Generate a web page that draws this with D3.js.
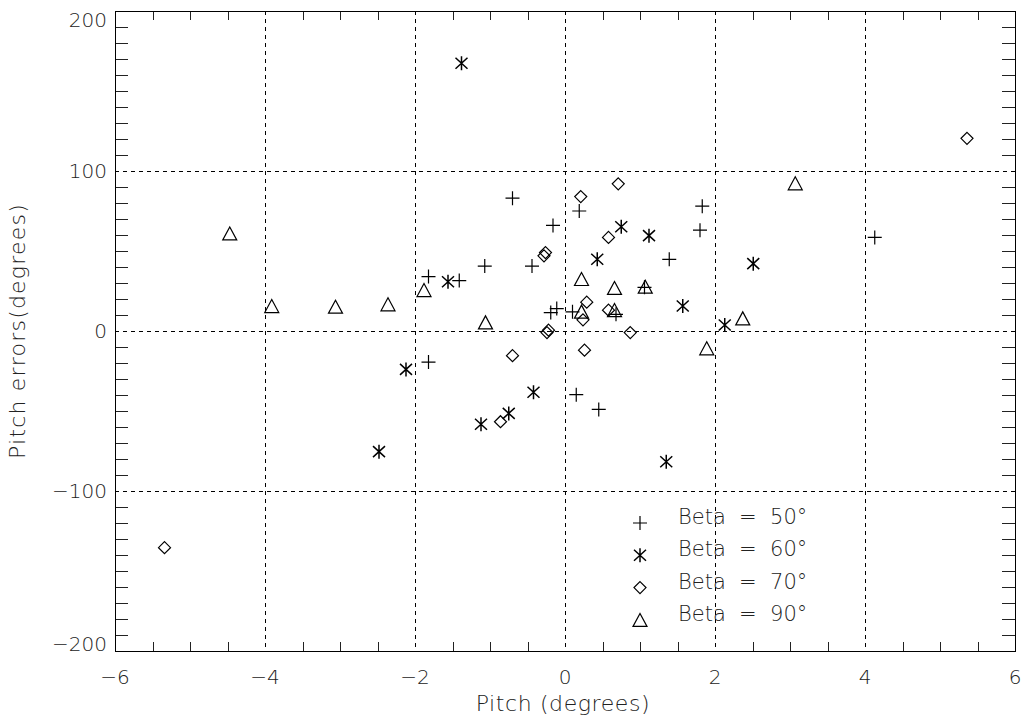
<!DOCTYPE html>
<html>
<head>
    <title>Pitch errors</title>
    <script src="https://d3js.org/d3.v7.min.js"></script>
    <style>
        body { margin: 0; background: #fff; }
        text { font-family: "DejaVu Sans ExtraLight", "DejaVu Sans", sans-serif; font-weight: 200; fill: #222; }
    </style>
</head>
<body>
<div id="chart"></div>
<script>
    // values
    const beta50x = [-0.70, -0.16, 0.19, 1.83, 1.80, 4.13, -1.82, -1.41, -1.07, -0.44, 1.39, -0.11, -0.19, 0.10, 0.68, 1.06, -1.82, 0.15, 0.45];
    const beta50y = [83, 66, 75, 78, 63, 58.5, 34, 31.5, 40.6, 40.6, 44.8, 14, 11.5, 12, 10.4, 27.3, -19.4, -39.8, -49];
    const beta60x = [-1.38, 0.75, 1.12, -1.56, 0.43, -2.12, -0.42, -0.75, -1.12, 1.35, -2.48, 1.57, 2.13, 2.51];
    const beta60y = [167.3, 65.2, 59.6, 30.8, 44.8, -24, -38.3, -51.5, -58.3, -81.7, -75.4, 15.6, 3.75, 42.1];
    const beta70x = [0.21, 0.71, 5.36, 0.58, -0.26, -0.28, 0.29, 0.58, 0.24, -0.24, -0.22, 0.87, 0.26, -0.70, -0.86, -5.34];
    const beta70y = [84, 92, 120.4, 58.5, 49, 47, 18, 13, 7, -1, 0.5, -1, -12, -15.4, -56.7, -135.4];
    const beta90x = [-4.47, -3.91, -3.06, -2.36, -1.88, -1.06, 0.22, 0.66, 1.07, 0.22, 0.66, 2.37, 1.89, 3.07];
    const beta90y = [61, 15.6, 15.2, 16.7, 25.6, 5.4, 32.5, 26.9, 27.7, 12.1, 13.1, 7.9, -10.8, 92.3];

    const legendLabels = ["Beta = 50°", "Beta = 60°", "Beta = 70°", "Beta = 90°"];
    const xTicks = [-6, -4, -2, 0, 2, 4, 6];
    const yTicks = [-200, -100, 0, 100, 200];

    const width = 1028, height = 722;
    const margin = {top: 11, right: 13, bottom: 71, left: 115};

    const x = d3.scaleLinear().domain([-6, 6]).range([margin.left, width - margin.right]);
    const y = d3.scaleLinear().domain([-200, 200]).range([height - margin.bottom, margin.top]);

    const svg = d3.select("#chart").append("svg")
        .attr("width", width)
        .attr("height", height);

    // marker shapes: plus, asterisk, diamond, triangle
    const shapes = [
        "M-7,0H7M0,-7V7",
        "M0,-7V7M-6,-5.5L6,5.5M-6,5.5L6,-5.5",
        "M0,-6L6,0L0,6L-6,0Z",
        "M-7,6.5L7,6.5L0,-6.5Z"
    ];
    const strokeW = [1.2, 1.5, 1.2, 1.2];

    // dashed grid at major ticks
    svg.append("g").selectAll("line")
        .data(xTicks.slice(1, -1))
        .enter().append("line")
        .attr("x1", d => Math.round(x(d)) + 0.5).attr("x2", d => Math.round(x(d)) + 0.5)
        .attr("y1", y(200)).attr("y2", y(-200))
        .attr("stroke", "#000").attr("stroke-dasharray", "4,4");
    svg.append("g").selectAll("line")
        .data(yTicks.slice(1, -1))
        .enter().append("line")
        .attr("y1", d => Math.round(y(d)) + 0.5).attr("y2", d => Math.round(y(d)) + 0.5)
        .attr("x1", x(-6)).attr("x2", x(6))
        .attr("stroke", "#000").attr("stroke-dasharray", "4,4");

    // minor ticks on all four sides
    const xMinor = d3.range(-6, 6.01, 0.5).filter(d => Math.abs(d % 2) > 0.01);
    const yMinor = d3.range(-200, 200.1, 10).filter(d => Math.abs(d % 100) > 0.01);
    const ticks = svg.append("g").attr("stroke", "#222").attr("shape-rendering", "crispEdges");
    xMinor.forEach(d => {
        const px = Math.round(x(d)) + 0.5;
        ticks.append("line").attr("x1", px).attr("x2", px).attr("y1", y(-200)).attr("y2", y(-200) - 9);
        ticks.append("line").attr("x1", px).attr("x2", px).attr("y1", y(200)).attr("y2", y(200) + 9);
    });
    yMinor.forEach(d => {
        const py = Math.round(y(d)) + 0.5;
        ticks.append("line").attr("y1", py).attr("y2", py).attr("x1", x(-6)).attr("x2", x(-6) + 13);
        ticks.append("line").attr("y1", py).attr("y2", py).attr("x1", x(6)).attr("x2", x(6) - 13);
    });

    // frame
    svg.append("rect")
        .attr("x", x(-6) + 0.5).attr("y", y(200) + 0.5)
        .attr("width", x(6) - x(-6)).attr("height", y(-200) - y(200))
        .attr("fill", "none").attr("stroke", "#000");

    // tick labels
    const fmt = d => d < 0 ? "\u2212" + Math.abs(d) : String(d);
    svg.append("g").selectAll("text")
        .data(xTicks).enter().append("text")
        .attr("x", d => x(d)).attr("y", y(-200) + 33)
        .attr("text-anchor", "middle").attr("font-size", 20)
        .text(fmt);
    svg.append("g").selectAll("text")
        .data(yTicks).enter().append("text")
        .attr("x", x(-6) - 8)
        .attr("y", d => Math.min(Math.max(y(d), 20), 644) + 7)
        .attr("text-anchor", "end").attr("font-size", 20)
        .text(fmt);

    // axis titles
    svg.append("text")
        .attr("x", x(0) - 2).attr("y", 711)
        .attr("text-anchor", "middle").attr("font-size", 22)
        .attr("letter-spacing", 0.6)
        .text("Pitch (degrees)");
    svg.append("text")
        .attr("transform", `translate(25,${y(0)}) rotate(-90)`)
        .attr("text-anchor", "middle").attr("font-size", 22)
        .attr("letter-spacing", 1.2)
        .text("Pitch errors(degrees)");

    // points
    const series = [[beta50x, beta50y], [beta60x, beta60y], [beta70x, beta70y], [beta90x, beta90y]];
    series.forEach((s, k) => {
        const pts = s[0].map((v, i) => [v, s[1][i]]);
        svg.append("g").selectAll("path")
            .data(pts).enter().append("path")
            .attr("transform", d => `translate(${x(d[0])},${y(d[1])})`)
            .attr("d", shapes[k])
            .attr("fill", "none").attr("stroke", "#000").attr("stroke-width", strokeW[k]);
    });

    // legend
    const legend = svg.append("g").attr("transform", "translate(640,523)");
    legendLabels.forEach((t, k) => {
        legend.append("path")
            .attr("transform", `translate(0,${k * 32.3})`)
            .attr("d", shapes[k])
            .attr("fill", "none").attr("stroke", "#000").attr("stroke-width", strokeW[k]);
        legend.append("text")
            .attr("x", 38).attr("y", k * 32.3 + 1)
            .attr("font-size", 21)
            .attr("xml:space", "preserve")
            .text(t.replace(" = ", "  =  "));
    });
</script>
</body>
</html>
